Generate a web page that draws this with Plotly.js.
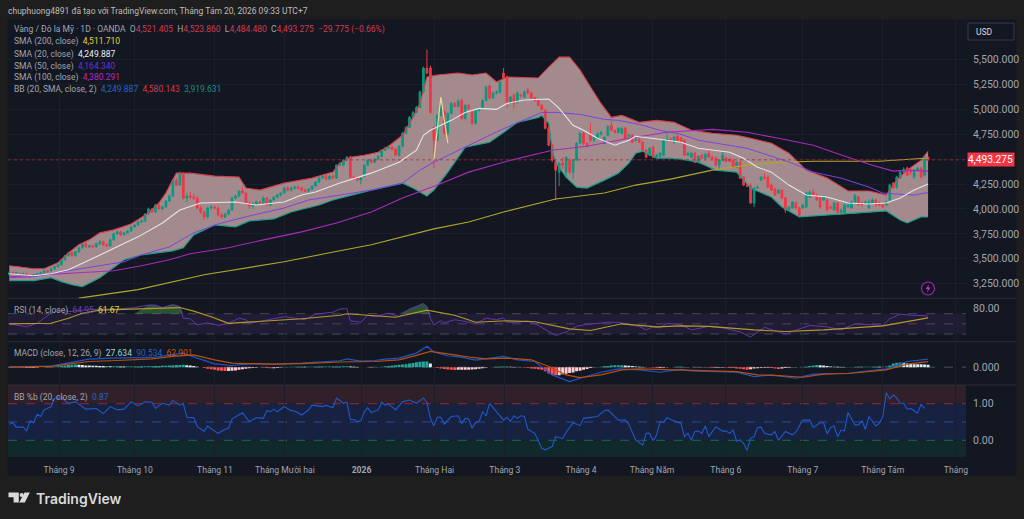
<!DOCTYPE html>
<html><head><meta charset="utf-8">
<script src="https://cdn.plot.ly/plotly-3.0.1.min.js"></script>
<style>html,body{margin:0;padding:0;background:#1e1e1e;overflow:hidden}#c{width:1024px;height:519px}</style>
</head><body><div id="c"></div>
<script>
// ---------- values ----------
const opens=[3340,3360,3350,3350,3340,3350,3330,3320,3340,3350,
3360,3380,3380,3400,3420,3440,3490,3530,3560,3530,
3570,3610,3650,3620,3630,3620,3650,3670,3640,3630,
3690,3750,3770,3740,3760,3780,3820,3840,3870,3880,
3950,4000,3970,4040,4000,4020,4080,4130,4290,4240,
4350,4110,4130,4120,4110,4010,3970,3920,4010,4020,
4010,3940,3920,3950,3990,4110,4130,4180,4160,4060,
4030,4050,4070,4060,4110,4040,4090,4120,4140,4160,
4210,4190,4210,4220,4210,4190,4180,4200,4230,4270,
4310,4330,4300,4330,4310,4440,4440,4490,4520,4320,
4310,4290,4330,4440,4490,4470,4500,4530,4590,4610,
4620,4600,4540,4630,4760,4820,4920,4970,5020,5175,
5415,5415,4820,4690,4940,4980,4760,4960,5060,5030,
5090,4910,5040,4980,4860,4990,5010,5090,5235,5115,
5165,5175,5365,5325,5070,5145,5070,5145,5125,5195,
5165,5115,5090,5040,4990,4810,4640,4470,4370,4460,
4370,4490,4370,4490,4660,4760,4660,4740,4690,4710,
4750,4660,4740,4840,4790,4770,4760,4810,4730,4740,
4690,4700,4670,4590,4540,4620,4520,4530,4540,4690,
4700,4670,4730,4710,4690,4540,4520,4560,4470,4540,
4510,4560,4520,4510,4440,4490,4510,4500,4490,4420,
4470,4320,4240,4240,4060,4210,4290,4320,4320,4240,
4200,4160,4190,4110,3990,4010,4060,4010,4010,4020,
4120,4170,4140,4110,4090,4090,4020,3990,4060,3970,
3960,4020,4010,4070,4120,4060,4060,4010,4060,4090,
4060,4040,4040,4090,4260,4220,4310,4370,4410,4390,
4320,4390,4410,4340,4521.405];
const closes=[3360,3350,3360,3340,3350,3330,3320,3340,3350,3360,
3380,3370,3400,3420,3440,3490,3530,3560,3530,3570,
3610,3650,3620,3630,3620,3650,3670,3640,3630,3690,
3750,3770,3740,3760,3780,3820,3840,3870,3880,3950,
4000,3970,4040,4000,4020,4080,4130,4290,4240,4350,
4110,4130,4120,4110,4010,3970,3920,4010,4020,4010,
3940,3920,3950,3990,4110,4130,4180,4160,4060,4030,
4050,4070,4060,4110,4040,4090,4120,4140,4160,4210,
4190,4210,4220,4210,4190,4180,4200,4230,4270,4310,
4330,4300,4330,4310,4440,4460,4490,4520,4320,4310,
4290,4310,4440,4490,4470,4500,4530,4590,4610,4620,
4600,4540,4630,4760,4820,4920,4970,5020,5175,5415,
5365,4970,4690,4940,5040,4760,4960,5060,5030,5080,
4910,5040,5010,4860,4990,5010,5090,5225,5115,5165,
5175,5275,5315,5070,5125,5060,5165,5135,5175,5165,
5115,5090,5040,5000,4810,4640,4490,4390,4460,4440,
4520,4370,4490,4660,4760,4660,4630,4690,4720,4750,
4770,4720,4830,4790,4770,4810,4810,4710,4740,4670,
4700,4670,4590,4520,4610,4520,4540,4560,4690,4700,
4690,4720,4690,4670,4540,4560,4560,4470,4530,4510,
4550,4520,4510,4440,4490,4540,4480,4480,4420,4470,
4310,4240,4230,4060,4210,4220,4320,4310,4220,4190,
4140,4190,4110,3990,4020,4070,4010,3940,4040,4160,
4170,4140,4090,4020,4120,3990,4010,4060,3970,3990,
4040,4040,4070,4140,4040,4040,4070,4070,4090,4040,
4040,4020,4070,4240,4210,4320,4370,4400,4340,4370,
4390,4410,4320,4520,4493.275];
const highs=[3375,3372,3370,3360,3362,3360,3340,3345,3358,3370,
3390,3390,3410,3430,3450,3500,3540,3570,3575,3580,
3625,3660,3665,3640,3640,3660,3685,3680,3655,3700,
3760,3785,3780,3770,3790,3830,3850,3885,3895,3960,
4015,4010,4050,4060,4035,4090,4145,4300,4310,4375,
4370,4160,4170,4150,4125,4030,3985,4020,4040,4035,
4025,3955,3960,4000,4120,4145,4190,4220,4175,4075,
4065,4085,4085,4125,4125,4100,4130,4155,4170,4225,
4230,4225,4235,4235,4225,4205,4210,4240,4280,4320,
4345,4345,4340,4350,4450,4470,4500,4530,4535,4335,
4325,4320,4450,4500,4505,4510,4540,4600,4625,4640,
4635,4615,4640,4775,4830,4935,4985,5035,5190,5430,
5600,5440,4830,4950,5050,5000,4970,5075,5075,5100,
5105,5055,5055,4995,5000,5020,5100,5240,5250,5180,
5190,5290,5415,5340,5135,5160,5180,5160,5190,5215,
5180,5130,5100,5055,5000,4830,4655,4490,4475,4520,
4530,4510,4500,4670,4775,4775,4670,4860,4730,4770,
4785,4730,4840,4880,4800,4820,4820,4825,4755,4755,
4710,4715,4680,4600,4620,4635,4555,4570,4700,4760,
4715,4735,4745,4725,4700,4575,4575,4575,4540,4555,
4560,4590,4535,4525,4500,4580,4525,4515,4505,4480,
4480,4330,4250,4260,4220,4235,4330,4360,4335,4255,
4215,4200,4200,4120,4030,4080,4075,4020,4050,4170,
4185,4200,4155,4120,4130,4105,4035,4070,4075,4005,
4055,4055,4085,4150,4130,4075,4085,4100,4110,4105,
4075,4055,4085,4255,4270,4335,4385,4420,4425,4410,
4400,4425,4420,4530,4523.86];
const lows=[3330,3340,3340,3325,3330,3320,3310,3310,3330,3340,
3350,3360,3370,3390,3410,3430,3480,3520,3520,3520,
3560,3600,3610,3605,3610,3610,3640,3630,3620,3620,
3680,3740,3730,3730,3750,3770,3810,3830,3860,3870,
3940,3960,3960,3990,3990,4010,4070,4120,4230,4230,
4095,4070,4100,4090,3995,3950,3890,3905,3990,3995,
3925,3905,3905,3935,3980,4095,4120,4150,4045,4000,
4000,4035,4050,4045,4030,4030,4080,4105,4125,4150,
4175,4175,4195,4195,4175,4170,4165,4190,4220,4260,
4300,4290,4290,4300,4300,4430,4430,4480,4310,4295,
4275,4250,4320,4430,4455,4460,4490,4520,4580,4600,
4590,4530,4525,4620,4750,4810,4910,4960,5010,5165,
5350,4960,4410,4680,4930,4750,4740,4950,5020,5020,
4895,4895,4995,4845,4850,4980,5000,5080,5100,5100,
5150,5160,5300,5020,5055,5010,5060,5120,5110,5150,
5100,5080,5030,4990,4800,4630,4470,4090,4230,4400,
4310,4350,4300,4480,4650,4640,4620,4670,4670,4700,
4740,4650,4730,4780,4760,4760,4750,4700,4720,4660,
4680,4660,4580,4510,4530,4510,4510,4520,4530,4680,
4680,4660,4680,4660,4530,4530,4510,4460,4460,4500,
4500,4510,4500,4430,4390,4480,4470,4470,4410,4410,
4300,4230,4220,4050,4020,4200,4280,4290,4210,4180,
4130,4150,4100,3960,3980,4000,4000,3920,4000,4010,
4110,4130,4080,4000,4080,3980,4000,3980,3960,3955,
3950,4010,4000,4060,4030,4030,4050,4000,4050,4030,
4030,4010,4030,4075,4200,4200,4300,4360,4330,4340,
4300,4375,4310,4325,4484.48];

const upperBars=[0,3,7,10,14,17,20,23,26,30,35,40,43,45,48,52,59,66,68,72,79,87,93,95,98,102,106,109,113,116,118,120,123,129,133,137,140,143,152,155,158,161,164,167,170,173,176,181,186,191,193,196,202,209,213,219,224,229,235,241,247,252,255,258,262,264];
const upperVals=[3430,3420,3400,3400,3460,3560,3640,3690,3760,3790,3850,3960,4060,4160,4360,4360,4330,4320,4210,4190,4260,4310,4370,4460,4520,4540,4570,4630,4740,4920,5060,5325,5345,5365,5345,5365,5275,5325,5315,5425,5525,5525,5395,5225,5060,4920,4940,4870,4890,4870,4840,4790,4760,4740,4710,4660,4560,4390,4310,4180,4180,4140,4290,4390,4490,4580.143];
const lowerBars=[0,7,12,15,18,21,26,30,33,38,47,50,53,59,65,69,76,81,89,93,104,113,116,120,122,126,131,138,143,146,152,153,155,156,157,160,163,166,171,175,178,180,182,186,190,193,198,203,209,213,219,222,227,235,241,252,256,258,262,264];
const lowerVals=[3280,3280,3310,3270,3240,3220,3310,3410,3490,3540,3580,3610,3740,3840,3820,3880,3900,3970,4040,4090,4190,4260,4210,4130,4190,4370,4620,4670,4790,4870,4920,4940,4860,4590,4470,4320,4220,4210,4290,4360,4460,4560,4580,4510,4510,4500,4470,4390,4370,4210,4120,4020,3920,3940,3950,3980,3890,3860,3920,3919.631];
const sma20Bars=[0,7,12,17,25,37,44,49,55,65,71,79,84,88,95,104,112,117,119,121,127,131,135,140,143,148,155,158,162,165,169,174,178,180,189,193,198,207,211,215,219,224,229,235,241,247,252,256,260,264];
const sma20Vals=[3350,3330,3350,3390,3520,3720,3860,3990,4060,4070,4040,4070,4140,4170,4260,4360,4470,4590,4740,4790,4890,4970,5010,5000,5060,5095,5105,5010,4840,4790,4710,4640,4690,4730,4690,4670,4610,4570,4510,4420,4370,4240,4140,4120,4060,4050,4060,4110,4190,4249.887];
const sma50Bars=[0,7,17,27,33,38,46,53,60,69,79,86,104,113,118,122,132,141,149,153,157,164,171,175,181,187,193,198,212,220,225,231,239,247,251,255,260,264];
const sma50Vals=[3310,3320,3380,3440,3470,3540,3620,3760,3850,3930,4010,4090,4190,4260,4390,4470,4640,4790,4910,4970,4970,4950,4900,4890,4850,4790,4750,4690,4610,4520,4460,4370,4310,4220,4160,4150,4140,4164.34];
const sma100Bars=[0,10,17,30,38,46,52,63,73,84,94,104,113,123,132,143,156,166,178,189,202,212,221,231,241,248,254,258,264];
const sma100Vals=[3320,3340,3350,3380,3430,3490,3550,3610,3690,3770,3860,3970,4110,4240,4370,4480,4590,4630,4710,4770,4800,4770,4710,4640,4520,4440,4380,4390,4380.291];
const sma200Bars=[20,37,56,67,79,92,104,122,132,142,152,157,171,180,190,202,212,222,231,250,264];
const sma200Vals=[3105,3190,3340,3400,3470,3560,3640,3800,3870,3970,4060,4100,4160,4240,4300,4390,4440,4470,4480,4480,4511.71];
const sketchBars=[122,124,126];
const sketchPrices=[4490,5125,4660];

const rsiBars=[0,3,5,8,10,12,15,17,21,26,31,36,40,42,44,47,49,50,52,54,57,60,63,66,68,69,73,77,79,82,85,88,93,95,97,98,101,103,105,109,112,115,119,120,121,122,124,125,128,130,134,137,140,142,143,146,149,152,155,157,160,163,165,172,175,181,183,185,187,189,193,196,201,205,210,213,217,223,230,235,239,243,251,253,256,259,263,264];
const rsiVals=[50,47,44,51,61,71,77,74,77,79,79,82,87,87,82,88,84,61,60,48,52,47,51,61,58,51,56,61,64,61,58,69,73,79,80,56,53,67,64,71,64,79,90,84,61,48,56,52,58,56,50,61,58,62,53,53,56,47,35,27,34,45,48,53,53,45,38,44,42,51,48,38,45,42,34,24,43,30,47,44,38,50,47,60,69,67,66,64.95];
const rsiMaBars=[0,12,17,21,26,36,45,49,53,58,63,74,84,95,97,103,111,120,128,134,143,151,161,167,176,186,193,201,214,223,234,251,264];
const rsiMaVals=[50,51,61,71,77,79,82,82,75,64,51,56,60,67,70,67,63,77,67,53,56,54,40,37,50,44,46,45,38,35,38,46,61.67];
const rsiHotBarsA=[36,40,42,44,47,49,50];
const rsiHotValsA=[70,87,87,82,88,84,70];
const rsiHotBarsB=[108,112,115,119,120,121];
const rsiHotValsB=[70,70,79,90,84,70];

const macdBars=[0,7,12,15,19,23,29,36,41,47,50,54,59,64,69,76,84,95,97,101,105,108,112,117,120,122,126,130,134,142,146,151,156,161,164,170,175,181,187,193,196,209,214,219,226,231,241,252,258,264];
const macdVals=[4,4,11,34,64,90,102,109,109,140,158,102,38,19,38,34,45,72,94,68,75,90,102,158,234,170,128,113,79,121,83,64,-87,-162,-124,-57,-19,-30,-57,-25,-41,-57,-106,-87,-124,-79,-68,-19,64,90.534];
const signalBars=[0,12,17,23,31,41,47,53,59,64,69,76,84,95,105,112,117,121,128,133,137,143,150,155,160,164,170,176,181,193,209,215,221,228,234,242,252,258,264];
const signalVals=[0,8,34,64,75,94,121,139,83,45,41,34,41,58,64,83,132,177,139,109,94,102,83,8,-87,-117,-87,-30,-19,-32,-49,-87,-94,-113,-79,-68,-30,34,62.901];
const histVals=[2,1,-3,-8,-10,-10,-9,-8,-5,-2,
0,2,3,6,10,15,20,24,28,30,
28,24,20,18,16,15,14,12,12,10,
10,10,9,8,8,8,8,9,10,10,
10,11,12,14,15,17,19,22,24,24,
26,22,18,14,6,-2,-10,-18,-24,-30,
-36,-40,-42,-42,-40,-36,-30,-24,-18,-12,
-8,-5,-2,-3,-8,-12,-12,-8,-3,0,
3,4,5,6,6,5,5,6,6,7,
7,8,8,8,9,9,10,10,8,6,
3,0,-2,-4,-3,-2,2,6,10,14,
18,22,26,30,34,40,48,55,60,63,
63,40,-3,-8,-14,-20,-26,-30,-32,-30,
-30,-30,-28,-26,-22,-18,-12,-6,-2,2,
4,6,8,6,4,2,0,-3,-6,-10,
-14,-18,-22,-30,-45,-70,-85,-90,-90,-80,
-75,-65,-60,-45,-40,-30,-20,-10,-4,2,
6,10,14,18,22,22,22,20,16,12,
8,4,2,0,-3,-6,-8,-8,-6,-3,
0,2,4,5,3,2,-2,-3,-4,-3,
-3,-5,-6,-6,-6,-5,-6,-8,-10,-14,
-18,-24,-28,-22,-16,-12,-8,-6,-5,-8,
-14,-20,-16,-10,-6,-4,-3,-2,0,5,
12,20,24,22,18,12,8,5,4,3,
2,2,3,3,4,4,5,5,6,6,
5,6,8,20,40,50,52,48,40,36,
34,33,32,30,27.634];

const pctBars=[0,1,2,4,5,6,7,8,9,10,12,13,15,17,19,22,25,27,29,31,33,35,37,39,41,42,44,46,47,49,50,51,53,54,56,57,60,62,63,64,67,69,71,73,74,75,76,77,79,81,82,84,86,87,90,91,93,94,96,97,98,99,100,101,102,103,104,106,107,108,109,111,113,115,117,119,120,121,122,123,124,125,127,129,130,131,132,133,134,135,136,137,138,142,143,144,145,146,147,148,149,151,153,154,156,157,159,160,162,164,165,169,171,172,175,177,178,180,182,183,184,185,186,187,188,189,191,193,194,195,196,197,198,199,200,201,203,205,206,207,208,209,210,211,212,213,214,215,216,217,219,220,221,223,225,226,228,230,231,233,234,235,236,237,238,239,240,241,243,244,245,246,247,249,250,251,252,253,254,255,256,257,258,259,261,262,263,264];
const pctVals=[.44,.49,.36,.36,.26,.53,.48,.71,.65,.83,.92,1.15,1.16,1.01,1.05,.85,.87,.73,.92,.83,.85,1.05,.94,1.05,1.04,.87,1.01,.96,1.09,.96,1.01,.63,.62,.37,.25,.39,.19,.3,.33,.58,.75,.51,.62,.6,.81,.78,.85,.78,.92,.81,.8,.69,.83,.96,.92,.96,.89,1.15,1.01,1.04,.57,.57,.51,.53,.78,.89,.76,.83,1.04,.96,.99,.83,1.05,1.1,1.01,1.15,1.04,.6,.4,.63,.63,.44,.65,.67,.46,.6,.58,.33,.49,.51,.78,.67,1.01,.55,.63,.51,.67,.6,.67,.65,.3,.19,-.22,-.26,-.17,.1,.05,.22,.48,.4,.6,.65,.81,.83,.55,.55,.44,.01,-.13,.19,.19,-.01,.15,.51,.49,.62,.53,.46,.1,.19,.01,.24,.25,.19,.39,.1,.37,.25,.25,.19,.28,-.02,.01,-.08,-.27,.05,.1,.35,.36,.19,.15,.24,0,.24,.15,.22,.55,.55,.35,.48,.48,.18,.35,.39,.1,.28,.26,.76,.42,.42,.53,.3,.65,.39,.46,.65,1.3,1.13,1.24,1.15,1.01,1.01,.85,.87,.74,.98,.87];

const monthBars=[14.3,36.1,59.1,79.2,101.2,122.2,142.4,164.3,184.7,205.9,228,251,272];
const monthLabels=['Tháng 9','Tháng 10','Tháng 11','Tháng Mười hai','<b>2026</b>','Tháng Hai','Tháng 3','Tháng 4','Tháng Năm','Tháng 6','Tháng 7','Tháng Tám','Tháng'];
const priceTicks=[3250,3500,3750,4000,4250,4500,4750,5000,5250,5500];
const priceLabels=['3,250.000','3,500.000','3,750.000','4,000.000','4,250.000','','4,750.000','5,000.000','5,250.000','5,500.000'];
const lastPrice=4493.275;

// ---------- page geometry ----------
const W=1024,H=519;
const fx=x=>x/W, fy=y=>1-y/H;
const GREY='#a2a5af', GRID='#1b1f2c', SEP='#2a2e39', UP='#089981', DOWN='#f23645';
const FONT='Roboto, "Liberation Sans", sans-serif';
const xr=[-0.37,274.9];

function yax(top,bot,range,ticks,labels,extra){
  return Object.assign({domain:[fy(bot),fy(top)],range,side:'right',anchor:'x',fixedrange:true,
    tickmode:'array',tickvals:ticks,ticktext:labels,ticks:'outside',ticklen:4,tickcolor:'rgba(0,0,0,0)',
    tickfont:{family:FONT,size:10.5,color:GREY},showline:false,zeroline:false,
    showgrid:true,gridcolor:GRID,gridwidth:1},extra||{});
}
const mainRange=[3103,5898];

const traces=[];
const ln=(x,y,color,width,axis,extra)=>Object.assign({type:'scatter',mode:'lines',x,y,yaxis:axis,xaxis:'x',
  line:{color,width,shape:'linear'},hoverinfo:'skip',showlegend:false},extra||{});

// Bollinger fill sits on the base subplot, under the candles
traces.push({type:'scatter',mode:'none',xaxis:'x',yaxis:'y',fill:'toself',fillcolor:'rgb(163,138,141)',
  x:upperBars.concat(lowerBars.slice().reverse()),y:upperVals.concat(lowerVals.slice().reverse()),hoverinfo:'skip',showlegend:false});

// candles on overlay subplot
const barIdx=opens.map((_,i)=>i);
traces.push({type:'candlestick',xaxis:'x',yaxis:'y5',x:barIdx,open:opens,high:highs,low:lows,close:closes,
  whiskerwidth:0,increasing:{line:{color:UP,width:1},fillcolor:UP},decreasing:{line:{color:DOWN,width:1},fillcolor:DOWN},hoverinfo:'skip',showlegend:false});
traces.push(ln(upperBars,upperVals,'#d9404e',1.1,'y5'));
traces.push(ln(lowerBars,lowerVals,'#1a9e8b',1.2,'y5'));
traces.push(ln(sma200Bars,sma200Vals,'#b3a52b',1.1,'y5'));
traces.push(ln(sma100Bars,sma100Vals,'#a92ab9',1.1,'y5'));
traces.push(ln(sma50Bars,sma50Vals,'#7a44e0',1,'y5'));
traces.push(ln(sma20Bars,sma20Vals,'#e4e6ec',1.1,'y5'));
traces.push(ln(sketchBars,sketchPrices,'#f0d898',1.2,'y5'));

// RSI
traces.push(ln(rsiHotBarsA,rsiHotValsA,'rgba(0,0,0,0)',0,'y2',{fill:'toself',fillcolor:'rgba(76,175,80,0.4)'}));
traces.push(ln(rsiHotBarsB,rsiHotValsB,'rgba(0,0,0,0)',0,'y2',{fill:'toself',fillcolor:'rgba(76,175,80,0.4)'}));
traces.push(ln(rsiBars,rsiVals,'#6238ab',1,'y2'));
traces.push(ln(rsiMaBars,rsiMaVals,'#b39a28',1.1,'y2'));

// MACD
const histCols=histVals.map((v,i)=>{const p=i?histVals[i-1]:0;
  return v>=0?(v>=p?'#26a69a':'#d9efec'):(v<p?'#ff5252':'#ffcdd2');});
traces.push({type:'bar',xaxis:'x',yaxis:'y3',x:histVals.map((_,i)=>i),y:histVals,marker:{color:histCols,line:{width:0}},hoverinfo:'skip',showlegend:false});
traces.push(ln(macdBars,macdVals,'#1f55c9',1.2,'y3'));
traces.push(ln(signalBars,signalVals,'#b94f0e',1.2,'y3'));

// %B
traces.push(ln(pctBars,pctVals,'#2257cc',1.1,'y4'));

// ---------- shapes ----------
const shapes=[];
const paperRect=(x0,y0,x1,y1,fill,extra)=>Object.assign({type:'rect',xref:'paper',yref:'paper',x0:fx(x0),x1:fx(x1),y0:fy(y0),y1:fy(y1),fillcolor:fill,line:{width:0},layer:'below'},extra||{});
shapes.push(paperRect(7.5,19.5,1016.5,476,'#131722'));
shapes.push(paperRect(8,385,966,403.7,'#30202a'));
shapes.push(paperRect(8,403.7,966,440.3,'#162240'));
shapes.push(paperRect(8,440.3,966,457,'#12292c'));
shapes.push(paperRect(8,313.7,966,334,'#201c33'));
[298.3,341.7,385].forEach(y=>shapes.push({type:'line',xref:'paper',yref:'paper',x0:fx(8),x1:fx(1016),y0:fy(y),y1:fy(y),line:{color:SEP,width:1},layer:'below'}));
const dashY=(axis,v,color)=>({type:'line',xref:'x',yref:axis,x0:xr[0],x1:xr[1],y0:v,y1:v,line:{color,width:1,dash:'dash'},layer:'below'});
[70,50,30].forEach(v=>shapes.push(dashY('y2',v,'#4a4658')));
shapes.push(dashY('y3',0,'#4a4e5a'));
shapes.push(dashY('y4',1,'#8f2a3c'));
shapes.push(dashY('y4',.5,'#2a4a9a'));
shapes.push(dashY('y4',0,'#176a5c'));
shapes.push({type:'line',xref:'x',yref:'y5',x0:xr[0],x1:xr[1],y0:lastPrice,y1:lastPrice,line:{color:'#a02e3c',width:0.8,dash:'dot'},layer:'above'});
// USD box
shapes.push(paperRect(968,23,1014,40,'#131722',{line:{color:'#363a45',width:1},layer:'above'}));
// lightning badge
shapes.push({type:'circle',xref:'paper',yref:'paper',x0:fx(921.5),x1:fx(934.5),y0:fy(295),y1:fy(282),line:{color:'#9c27b0',width:1.2},fillcolor:'#16121f',layer:'above'});
const pth=(pts,fill)=>({type:'path',xref:'paper',yref:'paper',path:'M'+pts.map(p=>fx(p[0])+','+fy(p[1])).join(' L')+' Z',fillcolor:fill,line:{width:0},layer:'above'});
shapes.push(pth([[929,284.5],[925.5,289],[927.8,289],[927,292.5],[930.5,287.5],[928.3,287.5]],'#b13cc7'));
// TradingView logo
const LOGO='#dadada';
shapes.push(pth([[8.5,492.5],[18.8,492.5],[18.8,502.5],[13.6,502.5],[13.6,497.3],[8.5,497.3]],LOGO));
shapes.push({type:'circle',xref:'paper',yref:'paper',x0:fx(19.6),x1:fx(23.6),y0:fy(497),y1:fy(493),fillcolor:LOGO,line:{width:0},layer:'above'});
shapes.push(pth([[24.5,492.5],[29.8,492.5],[24.8,502.5],[19.2,502.5]],LOGO));

// ---------- text ----------
const ann=(x,y,text,o)=>Object.assign({xref:'paper',yref:'paper',x:fx(x),y:fy(y),text,showarrow:false,xanchor:'left',yanchor:'middle',align:'left',
  font:{family:FONT,size:8.5,color:GREY},borderpad:0},o||{});
const sp=(c,t)=>'<span style="color:'+c+'">'+t+'</span>';
const RED='#d6394a';
const annotations=[
 ann(7,11,'chuphuong4891 đã tạo với TradingView.com, Tháng Tám 20, 2026 09:33 UTC+7',{font:{family:FONT,size:8.5,color:'#bcbcbc'}}),
 ann(13,30,'Vàng / Đô la Mỹ · 1D · OANDA  O'+sp(RED,'4,521.405')+'  H'+sp(RED,'4,523.860')+'  L'+sp(RED,'4,484.480')+'  C'+sp(RED,'4,493.275')+'  '+sp(RED,'−29.775 (−0.66%)')),
 ann(13,42,'SMA (200, close)  '+sp('#e3d33a','4,511.710')),
 ann(13,54,'SMA (20, close)  '+sp('#eef0f4','4,249.887')),
 ann(13,66,'SMA (50, close)  '+sp('#6a2fd8','4,164.340')),
 ann(13,77.5,'SMA (100, close)  '+sp('#b52bc9','4,380.291')),
 ann(13,89.5,'BB (20, SMA, close, 2)  '+sp('#2962c9','4,249.887')+'  '+sp(RED,'4,580.143')+'  '+sp('#1a8f7e','3,919.631')),
 ann(13,310.6,'RSI (14, close)  '+sp('#6a3fb5','64.95')+'  '+sp('#e3d33a','61.67')),
 ann(13,353.6,'MACD (close, 12, 26, 9)  '+sp('#9fd8cf','27.634')+'  '+sp('#2962c9','90.534')+'  '+sp('#c8560f','62.901')),
 ann(13,397,'BB %b (20, close, 2)  '+sp('#2962c9','0.87')),
 ann(975,31.5,'USD',{font:{family:FONT,size:8.5,color:'#d8dae0'}}),
 ann(990.5,160,'4,493.275',{xanchor:'center',bgcolor:DOWN,width:46,height:13,font:{family:FONT,size:10.2,color:'#ffffff'}}),
 ann(34.5,498,'TradingView',{font:{family:'Inter, Roboto, sans-serif',size:14,weight:600,color:LOGO}})
];

const layout={width:W,height:H,margin:{l:0,r:0,t:0,b:0,pad:0},paper_bgcolor:'#1e1e1e',plot_bgcolor:'rgba(0,0,0,0)',
 showlegend:false,bargap:0.15,dragmode:false,hovermode:false,
 xaxis:{domain:[fx(8),fx(966)],range:xr,anchor:'y4',fixedrange:true,rangeslider:{visible:false},
   tickmode:'array',tickvals:monthBars,ticktext:monthLabels,ticks:'outside',ticklen:5,tickcolor:'rgba(0,0,0,0)',
   tickfont:{family:FONT,size:8.6,color:GREY},tickangle:0,showgrid:true,gridcolor:GRID,zeroline:false,showline:false,ticklabeloverflow:'allow'},
 yaxis:yax(20,298.3,mainRange,priceTicks,priceLabels),
 yaxis2:yax(298.3,341.7,[14.8,100.3],[80],['80.00'],{showgrid:false}),
 yaxis3:yax(341.7,385,[-200,286],[0],['0.000'],{showgrid:false}),
 yaxis4:yax(385,457,[-0.456,1.51],[0,1],['0.00','1.00'],{showgrid:false}),
 yaxis5:{overlaying:'y',side:'right',anchor:'x',range:mainRange,visible:false,fixedrange:true,showgrid:false,zeroline:false},
 shapes,annotations};
Plotly.newPlot('c',traces,layout,{staticPlot:true,displayModeBar:false,responsive:false});
</script></body></html>
